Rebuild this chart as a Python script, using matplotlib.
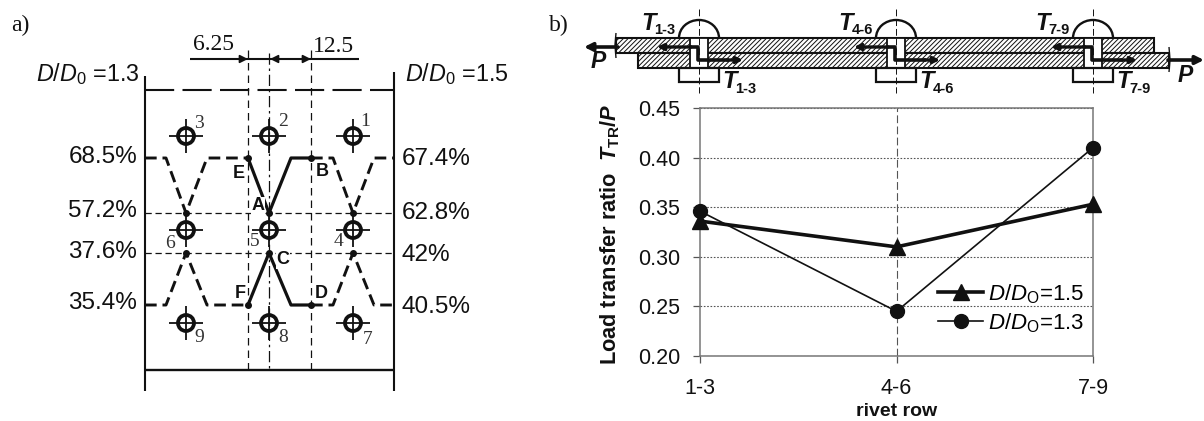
import matplotlib
matplotlib.use("Agg")
import matplotlib.pyplot as plt
from matplotlib.patches import Rectangle, Circle, Arc

plt.rcParams['font.family'] = ['Liberation Sans', 'DejaVu Sans']
plt.rcParams['mathtext.fontset'] = 'custom'
plt.rcParams['mathtext.rm'] = 'Liberation Sans'
plt.rcParams['mathtext.it'] = 'Liberation Sans:italic'
plt.rcParams['mathtext.bf'] = 'Liberation Sans:bold'
plt.rcParams['mathtext.bfit'] = 'Liberation Sans:italic:bold'
plt.rcParams['hatch.linewidth'] = 0.7

# chart data
rows = ['1-3', '4-6', '7-9']
ratio_15 = [0.336, 0.310, 0.353]
ratio_13 = [0.346, 0.245, 0.410]
yticks = [0.20, 0.25, 0.30, 0.35, 0.40, 0.45]
label_15 = r'$\mathit{D/D}_{\mathrm{O}}$=1.5'
label_13 = r'$\mathit{D/D}_{\mathrm{O}}$=1.3'

# schematic labels
left_pct = ['68.5%', '57.2%', '37.6%', '35.4%']
left_pct_y = [157, 211, 252, 303]
right_pct = ['67.4%', '62.8%', '42%', '40.5%']
right_pct_y = [159, 213, 255, 307]
rivet_x = [186, 269, 353]
rivet_y = [136, 230, 323]
rivet_names = [('3', 199, 123), ('2', 283, 122), ('1', 365, 122),
               ('6', 170, 243), ('5', 255, 241), ('4', 338, 241),
               ('9', 199, 338), ('8', 283, 337), ('7', 368, 339)]
joint_x = [699, 896, 1093]
joint_names = ['1-3', '4-6', '7-9']

fig = plt.figure(figsize=(12.04, 4.21), dpi=100)
bg = fig.add_axes([0, 0, 1, 1])
bg.set_xlim(0, 1204)
bg.set_ylim(421, 0)
bg.axis('off')

K = '#111111'
SER = 'Liberation Serif'

def line(xs, ys, lw=1.5, ls='-', c=K, z=3):
    bg.plot(xs, ys, color=c, lw=lw, ls=ls, zorder=z, solid_capstyle='butt', dash_capstyle='butt')

def arrow(x0, y0, x1, y1, lw=1.2, ms=10):
    bg.annotate('', xy=(x1, y1), xytext=(x0, y0),
                arrowprops=dict(arrowstyle='-|>', color=K, lw=lw, mutation_scale=ms,
                                shrinkA=0, shrinkB=0), zorder=6)

# ---- panel a
bg.text(11, 25, 'a)', family=SER, fontsize=17, va='center', color=K)
bg.text(549, 25, 'b)', family=SER, fontsize=17, va='center', color=K)

line([145, 145], [76, 391], 1.5)
line([394, 394], [72, 391], 1.5)
line([145, 394], [369.5, 369.5], 1.7)
line([145, 394], [89.5, 89.5], 1.5, (0, (14, 4)))
line([248, 248], [50, 369], 0.9, (0, (6, 4)))
line([311, 311], [50, 369], 0.9, (0, (6, 4)))
line([269, 269], [53, 369], 0.9, (0, (9, 3, 2, 3)))
for y in (213, 253):
    line([145, 394], [y, y], 0.9, (0, (5, 3)))

D = (0, (4, 2))
for yf, ym in ((158, 213), (305, 253)):
    line([145, 166, 186, 207, 248], [yf, yf, ym, yf, yf], 2.1, D)
    line([311, 333, 353, 374, 394], [yf, yf, ym, yf, yf], 2.1, D)
line([248, 269, 291, 311], [158, 213, 158, 158], 2.3)
line([248, 269, 291, 311], [305, 253, 305, 305], 2.3)
bg.plot([248, 311, 248, 311, 269, 269, 186, 353, 186, 353],
        [158, 158, 305, 305, 213, 253, 213, 213, 253, 253],
        'o', color=K, ms=4, zorder=5)

for y in rivet_y:
    for x in rivet_x:
        line([x - 17, x + 17], [y, y], 1.3)
        line([x, x], [y - 17, y + 17], 1.3)
        bg.add_patch(Circle((x, y), 8, fc='none', ec=K, lw=2.7, zorder=4))
for nm, px, py in rivet_names:
    bg.text(px, py, nm, family=SER, fontsize=14, ha='center', va='center', color='#333333', zorder=5)

for t, y in zip(left_pct, left_pct_y):
    bg.text(137, y, t, fontsize=17.5, ha='right', va='center', color=K)
for t, y in zip(right_pct, right_pct_y):
    bg.text(402, y, t, fontsize=17.5, ha='left', va='center', color=K)
bg.text(36, 74, r'$\mathit{D/D}_0$ =1.3', fontsize=16.8, ha='left', va='center', color=K)
bg.text(405, 74, r'$\mathit{D/D}_0$ =1.5', fontsize=16.8, ha='left', va='center', color=K)

for t, x, y in (('E', 239, 173), ('B', 322, 172), ('A', 258, 206), ('C', 283, 260),
                ('F', 240, 293), ('D', 321, 293)):
    bg.text(x, y, t, fontsize=13, fontweight='bold', ha='center', va='center', color=K,
            bbox=dict(fc='white', ec='none', pad=0.2), zorder=5)

line([190, 359], [59, 59], 1.5)
arrow(225, 59, 248, 59, ms=12)
arrow(290, 59, 270, 59, ms=12)
arrow(290, 59, 311, 59, ms=12)
bg.text(214, 44, '6.25', family=SER, fontsize=17, ha='center', va='center', color=K)
bg.text(333, 47, '12.5', family=SER, fontsize=17, ha='center', va='center', color=K)

# ---- panel b: lap joint
bg.add_patch(Rectangle((616, 38), 538, 15, fc='white', ec=K, lw=1.5, hatch='///////', zorder=2))
bg.add_patch(Rectangle((638, 53), 531, 15, fc='white', ec=K, lw=1.5, hatch='///////', zorder=2))
line([616, 615, 616], [33, 45, 58], 1.0)
line([1169, 1170, 1169], [47, 60, 72], 1.0)
for x, nm in zip(joint_x, joint_names):
    bg.add_patch(Rectangle((x - 9, 38), 18, 30, fc='white', ec=K, lw=1.3, zorder=3))
    bg.add_patch(Arc((x, 38), 40, 36, theta1=180, theta2=360, ec=K, lw=1.7, zorder=3))
    bg.add_patch(Rectangle((x - 20, 68), 40, 14, fc='white', ec=K, lw=1.6, zorder=3))
    line([x, x], [9, 93], 0.7, (0, (7, 3)), z=4)
    line([x - 9, x - 1, x - 1, x + 30], [47, 47, 60, 60], 2.6, z=5)
    arrow(x - 8, 47, x - 42, 47, lw=2.4, ms=9)
    arrow(x + 28, 60, x + 44, 60, lw=2.4, ms=9)
    bg.text(x - 58, 24, 'T', fontsize=17, fontweight='bold', style='italic', ha='left', va='center', color=K)
    bg.text(x - 44.5, 30, nm, fontsize=10.5, fontweight='bold', ha='left', va='center', color=K)
    bg.text(x + 23.5, 82, 'T', fontsize=17, fontweight='bold', style='italic', ha='left', va='center', color=K)
    bg.text(x + 36.5, 89, nm, fontsize=10.5, fontweight='bold', ha='left', va='center', color=K)
arrow(618, 47, 584, 47, lw=2.6, ms=12)
arrow(1168, 60, 1204, 60, lw=2.6, ms=12)
bg.text(591, 61, 'P', fontsize=16.5, fontweight='bold', style='italic', ha='left', va='center', color=K)
bg.text(1178, 75, 'P', fontsize=16.5, fontweight='bold', style='italic', ha='left', va='center', color=K)

# ---- panel b: chart
L, R, T, B = 700, 1093, 108, 356
ax = fig.add_axes([L / 1204, 1 - B / 421, (R - L) / 1204, (B - T) / 421])
ax.patch.set_alpha(0)
x = list(range(len(rows)))
ax.set_xlim(0, 2)
ax.set_ylim(0.20, 0.45)
for s in ax.spines.values():
    s.set_color('#777777')
    s.set_linewidth(1.1)
ax.set_yticks(yticks)
ax.set_yticklabels([f'{v:.2f}' for v in yticks], fontsize=15.5, color=K)
ax.set_xticks(x)
ax.set_xticklabels(rows, fontsize=15.5, color=K)
ax.tick_params(axis='y', length=5, width=0.9, color='#555555', pad=9.4)
ax.tick_params(axis='x', length=5, width=0.9, color='#555555', pad=11)
ax.yaxis.grid(True, ls=(0, (1.5, 1.5)), lw=0.8, color='#555555')
ax.axvline(1, color='#555555', lw=0.8, ls=(0, (7, 3)))
ax.set_axisbelow(True)
h1, = ax.plot(x, ratio_15, color=K, lw=2.6, marker='^', ms=11, clip_on=False, zorder=4, label=label_15)
h2, = ax.plot(x, ratio_13, color=K, lw=1.2, marker='o', ms=10, clip_on=False, zorder=5, label=label_13)
ax.set_xlabel('rivet row', fontsize=14, fontweight='bold', color=K, va='center')
ax.xaxis.set_label_coords(0.5, (356 - 411) / 248)
ax.set_ylabel(r'Load transfer ratio  $\mathbfit{T}_{\mathbf{TR}}\mathbf{/}\mathbfit{P}$',
              fontsize=15.7, fontweight='bold', color=K, va='center')
ax.yaxis.set_label_coords((610 - 700) / 393, 0.49)
leg = ax.legend(handles=[h1, h2], loc='upper left', bbox_to_anchor=(0.606, 0.298),
                frameon=False, fontsize=16, handlelength=2.03, labelspacing=0.25,
                handletextpad=0.23, borderpad=0, borderaxespad=0)

fig.savefig('out.png', dpi=100, facecolor='white')
